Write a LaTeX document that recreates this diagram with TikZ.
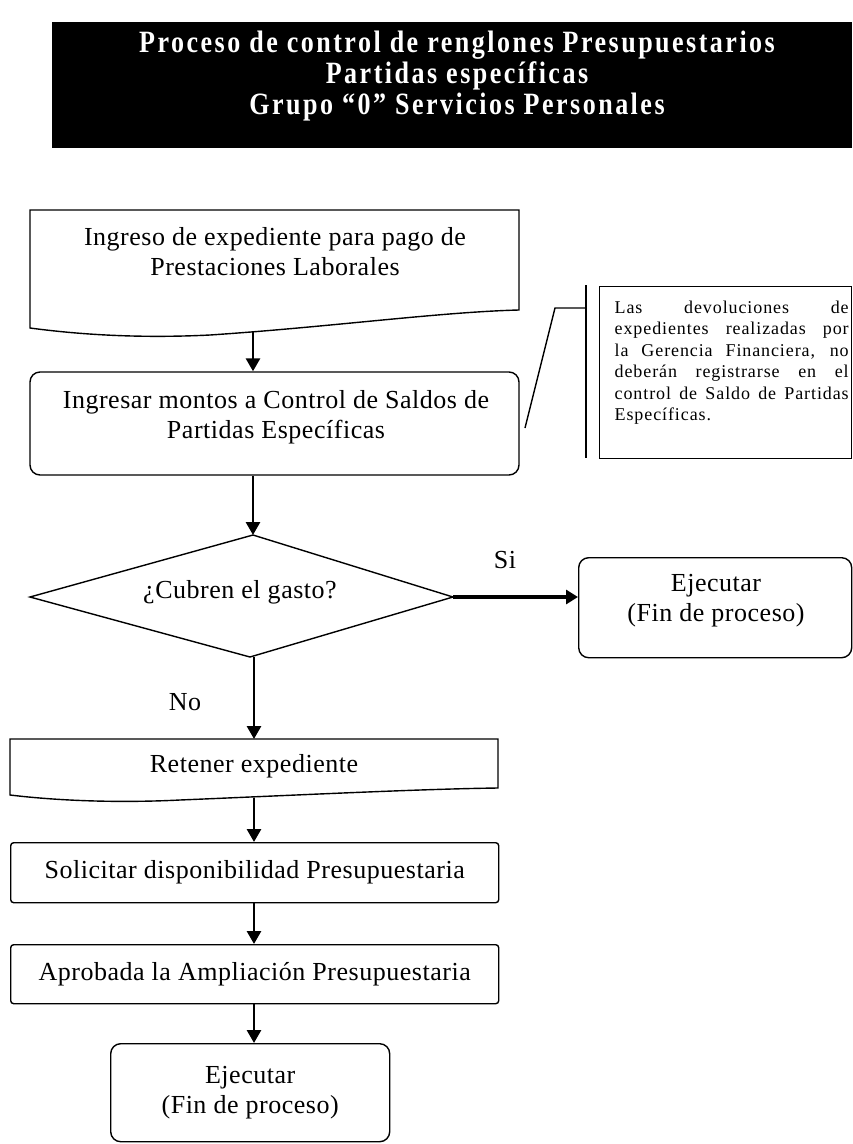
\documentclass[tikz,border=0pt]{standalone}
\usepackage{fontspec}
\setmainfont{Liberation Serif}[LetterSpace=2]
\newfontfamily\bannerfont{Liberation Serif}[FakeStretch=0.84,LetterSpace=8]
\newfontfamily\notefont{Liberation Serif}[LetterSpace=5]
\usetikzlibrary{arrows.meta}
\newcommand\stepfont{\fontsize{26}{30}\selectfont}

\begin{document}
\begin{tikzpicture}[x=1pt,y=-1pt,
  outline/.style={draw=black,line width=1.4pt},
  shapebox/.style={outline,inner sep=0pt,align=center,font=\stepfont},
  caption/.style={inner sep=0pt,align=center,font=\stepfont},
  flow/.style={line width=2.8pt,-{Triangle[length=13pt,width=14pt]}},
  yesflow/.style={line width=4.5pt,-{Triangle[length=12pt,width=14pt]}},
]
\useasboundingbox (0,0) rectangle (852,1144);

% title banner
\node[fill=black,inner sep=0pt,minimum width=800pt,minimum height=126pt,anchor=north west] (banner) at (52,22) {};
\node[text=white,inner sep=0pt,align=center,font=\bannerfont\bfseries\fontsize{31}{31}\selectfont] (bannertext) at (457,76)
  {Proceso de control de renglones Presupuestarios\\Partidas específicas\\Grupo “0” Servicios Personales};

% intake (document shape)
\draw[outline] (30,210) -- (519,210) -- (519,310)
  .. controls (440,312) and (330,327) .. (210,335)
  .. controls (150,338) and (90,336) .. (30,328) -- cycle;
\node[caption] (intake) at (275,252) {Ingreso de expediente para pago de\\Prestaciones Laborales};
\coordinate (intakeout) at (253,332);

% ledger entry
\node[shapebox,rounded corners=10pt,minimum width=489pt,minimum height=103pt] (ledger) at (274.5,423.5) {};
\node[caption] (ledgertext) at (276,417) {Ingresar montos a Control de Saldos de\\Partidas Específicas};

% annotation with accent bar and leader
\node[outline,inner sep=0pt,minimum width=252pt,minimum height=172pt,anchor=north west] (note) at (599,286) {};
\node[inner sep=0pt,text width=234pt,align=justify,anchor=north west,
      font=\notefont\fontsize{18}{21.5}\selectfont] (notetext) at (614.5,300.5)
  {Las devoluciones de\linebreak expedientes realizadas por\linebreak la Gerencia Financiera, no\linebreak deberán registrarse en el\linebreak control de Saldo de Partidas\linebreak Específicas.};
\coordinate (barTop) at (586,285);
\coordinate (barBot) at (586,458);
\coordinate (elbow) at (586,308);
\coordinate (knee) at (555,308);
\coordinate (tip) at (525,428);
\draw[outline] (barTop) -- (barBot);
\draw[outline] (elbow) -- (knee) -- (tip);

% decision
\draw[outline] (253,535) coordinate (askN) -- (453,597) coordinate (askE)
  -- (250,657) coordinate (askS) -- (30,597) coordinate (askW) -- cycle;
\node[caption] (ask) at (240,592) {¿Cubren el gasto?};

% yes branch
\node[shapebox,rounded corners=10pt,minimum width=273pt,minimum height=100pt,anchor=north west] (doneA) at (578,557) {};
\node[caption] (doneAtext) at (716,601) {Ejecutar\\(Fin de proceso)};
\node[caption] (yes) at (505,560) {Si};

% no branch
\node[caption] (no) at (185,702) {No};
\draw[outline] (10,739) -- (498,739) -- (498,788)
  .. controls (420,789) and (300,795) .. (180,800)
  .. controls (120,803) and (60,801) .. (10,795) -- cycle;
\node[caption] (hold) at (254,766) {Retener expediente};
\coordinate (holdin) at (254,739);
\coordinate (holdout) at (254,798);

\node[shapebox,rounded corners=3pt,minimum width=488pt,minimum height=60pt,anchor=north west] (request) at (10,842)
  {Solicitar disponibilidad Presupuestaria};
\node[shapebox,rounded corners=3pt,minimum width=488pt,minimum height=59pt,anchor=north west] (approved) at (10,944)
  {Aprobada la Ampliación Presupuestaria};
\node[shapebox,rounded corners=10pt,minimum width=279pt,minimum height=98pt,anchor=north west] (doneB) at (110,1043)
  {Ejecutar\\(Fin de proceso)};

% connectors
\draw[flow] (intakeout) -- (intakeout |- ledger.north);
\draw[flow] (ledger.south -| intakeout) -- (askN);
\draw[yesflow] (askE) -- (askE -| doneA.west);
\draw[flow] (holdin |- askS) -- (holdin);
\draw[flow] (holdout) -- (holdout |- request.north);
\draw[flow] (request.south -| holdout) -- (holdout |- approved.north);
\draw[flow] (approved.south -| holdout) -- (holdout |- doneB.north);
\end{tikzpicture}
\end{document}
